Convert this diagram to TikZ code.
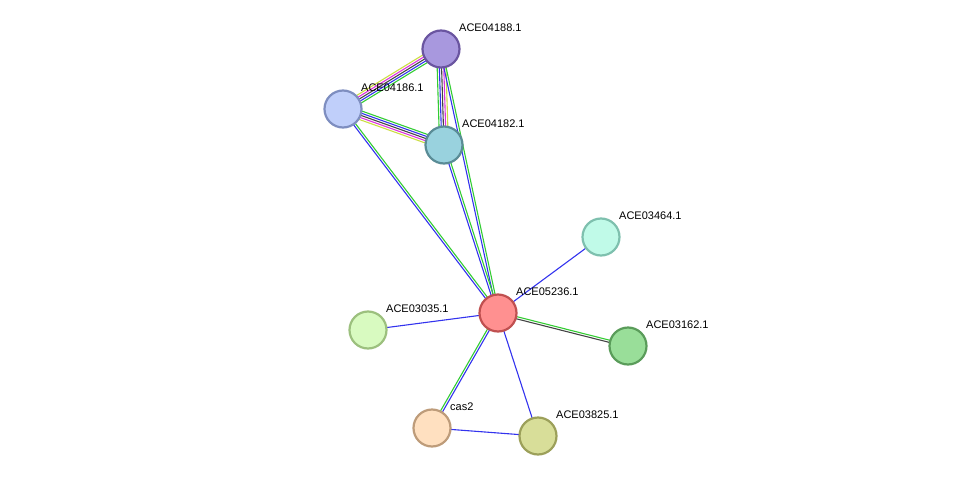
\documentclass[tikz,border=0pt]{standalone}
\usepackage{fontspec}
\setmainfont{Liberation Sans}
\usetikzlibrary{calc}
\pgfdeclarelayer{background}
\pgfsetlayers{background,main}

\definecolor{eGreen}{HTML}{33CC33}
\definecolor{eBlue}{HTML}{3333EE}
\definecolor{eDark}{HTML}{444444}
\definecolor{ePink}{HTML}{DD33DD}
\definecolor{eYellow}{HTML}{CCDD44}
\definecolor{fA}{HTML}{A898DE}\definecolor{dA}{HTML}{6A55A0}
\definecolor{fB}{HTML}{C0CFFA}\definecolor{dB}{HTML}{7E8EC0}
\definecolor{fC}{HTML}{99D2DE}\definecolor{dC}{HTML}{5A8C96}
\definecolor{fD}{HTML}{FF9090}\definecolor{dD}{HTML}{C05050}
\definecolor{fE}{HTML}{C0FAE8}\definecolor{dE}{HTML}{7EC0AE}
\definecolor{fF}{HTML}{D8FAC0}\definecolor{dF}{HTML}{9CC07E}
\definecolor{fG}{HTML}{99DE99}\definecolor{dG}{HTML}{5A9C5A}
\definecolor{fH}{HTML}{FFE0C0}\definecolor{dH}{HTML}{BE9C7A}
\definecolor{fI}{HTML}{D8DE99}\definecolor{dI}{HTML}{9CA05A}

% draws parallel coloured lines between two nodes
\newcommand{\bundle}[3]{%
  \foreach \c [count=\i] in {#3} {\xdef\bundlen{\i}}
  \foreach \c [count=\i] in {#3} {
    \pgfmathsetmacro{\off}{(\i-(\bundlen+1)/2)*2.2}
    \draw[\c, line width=1.1pt]
      ($(#1.center)!\off pt!90:(#2.center)$) -- ($(#2.center)!\off pt!-90:(#1.center)$);
  }}

\begin{document}
\begin{tikzpicture}[x=1pt,y=-1pt]
    \tikzset{
      prot/.style n args={2}{
        circle, minimum size=37pt, inner sep=0pt,
        line width=2.2pt, fill=#1, draw=#2,
      },
      lbl/.style={font=\fontsize{11}{13}\selectfont, anchor=west, inner sep=0pt},
    }
    \useasboundingbox (0,0) rectangle (975,482);

    % proteins
    \node[prot={fA}{dA}] (p04188) at (441,49) {};
    \node[prot={fB}{dB}] (p04186) at (343,109) {};
    \node[prot={fC}{dC}] (p04182) at (444,145) {};
    \node[prot={fD}{dD}] (p05236) at (498,313) {};
    \node[prot={fE}{dE}] (p03464) at (601,237) {};
    \node[prot={fF}{dF}] (p03035) at (368,330) {};
    \node[prot={fG}{dG}] (p03162) at (628,346) {};
    \node[prot={fH}{dH}] (pcas2)  at (432,428) {};
    \node[prot={fI}{dI}] (p03825) at (538,436) {};

    % labels
    \node[lbl] (l04188) at ([shift={(18,-21)}]p04188.center) {ACE04188.1};
    \node[lbl] (l04186) at ([shift={(18,-21)}]p04186.center) {ACE04186.1};
    \node[lbl] (l04182) at ([shift={(18,-21)}]p04182.center) {ACE04182.1};
    \node[lbl] (l05236) at ([shift={(18,-21)}]p05236.center) {ACE05236.1};
    \node[lbl] (l03464) at ([shift={(18,-21)}]p03464.center) {ACE03464.1};
    \node[lbl] (l03035) at ([shift={(18,-21)}]p03035.center) {ACE03035.1};
    \node[lbl] (l03162) at ([shift={(18,-21)}]p03162.center) {ACE03162.1};
    \node[lbl] (lcas2)  at ([shift={(18,-21)}]pcas2.center)  {cas2};
    \node[lbl] (l03825) at ([shift={(18,-21)}]p03825.center) {ACE03825.1};

    % interactions
    \begin{pgfonlayer}{background}
      \bundle{p04186}{p04188}{eGreen,eBlue,eDark,ePink,eYellow}
      \bundle{p04186}{p04182}{eYellow,ePink,eDark,eBlue,eGreen}
      \bundle{p04188}{p04182}{eGreen,eBlue,eDark,ePink,eYellow}
      \bundle{p04188}{p05236}{eBlue,eGreen}
      \bundle{p04186}{p05236}{eBlue,eGreen}
      \bundle{p04182}{p05236}{eBlue,eGreen}
      \bundle{p05236}{p03464}{eBlue}
      \bundle{p05236}{p03035}{eBlue}
      \bundle{p05236}{p03162}{eDark,eGreen}
      \bundle{p05236}{pcas2}{eGreen,eBlue}
      \bundle{p05236}{p03825}{eBlue}
      \bundle{pcas2}{p03825}{eBlue}
    \end{pgfonlayer}
\end{tikzpicture}
\end{document}
